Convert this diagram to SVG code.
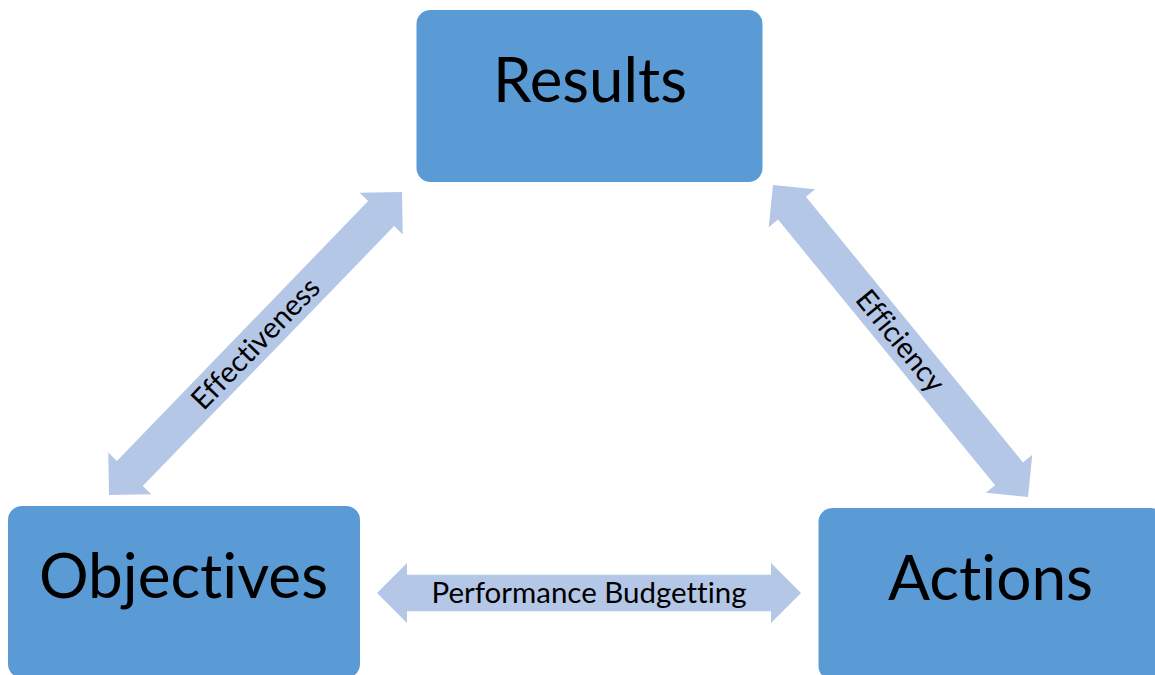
<svg xmlns="http://www.w3.org/2000/svg" width="1155" height="675" viewBox="0 0 1155 675">
  <defs>
    <style>
      .box { fill: #5B9BD5; }
      .big { font-family: Lato, "Open Sans", "Liberation Sans", sans-serif; font-size: 61px; fill: #000; text-anchor: middle; font-variant-ligatures: none; font-feature-settings: "liga" 0, "dlig" 0; }
      .arrow { fill: #B4C7E7; }
      .lbl { font-family: Lato, "Open Sans", "Liberation Sans", sans-serif; font-size: 29px; fill: #000; text-anchor: middle; font-variant-ligatures: none; font-feature-settings: "liga" 0, "dlig" 0; }
    </style>
  </defs>
  <rect width="1155" height="675" fill="#FFFFFF"/>

  <!-- double-headed block arrows with their labels -->
  <g id="connectors">
    <g id="effectiveness" transform="translate(255.5 343.5) rotate(-45.96)">
      <path class="arrow" d="M -210.75 0 L -180.75 -30 L -180.75 -18 L 180.75 -18 L 180.75 -30 L 210.75 0 L 180.75 30 L 180.75 18 L -180.75 18 L -180.75 30 Z"/>
      <text class="lbl" x="0" y="10" textLength="170" lengthAdjust="spacingAndGlyphs">Effectiveness</text>
    </g>
    <g id="efficiency" transform="translate(900.5 341) rotate(50.74)">
      <path class="arrow" d="M -201.5 0 L -171.5 -30 L -171.5 -18 L 171.5 -18 L 171.5 -30 L 201.5 0 L 171.5 30 L 171.5 18 L -171.5 18 L -171.5 30 Z"/>
      <text class="lbl" x="0" y="10" textLength="122" lengthAdjust="spacingAndGlyphs">Efficiency</text>
    </g>
    <g id="performance-budgetting" transform="translate(589 593)">
      <path class="arrow" d="M -212 0 L -182 -30 L -182 -18.3 L 182 -18.3 L 182 -30 L 212 0 L 182 30 L 182 18.3 L -182 18.3 L -182 30 Z"/>
      <text class="lbl" x="0" y="10" textLength="315" lengthAdjust="spacingAndGlyphs">Performance Budgetting</text>
    </g>
  </g>

  <g id="results">
    <rect class="box" x="416.5" y="10" width="346" height="172" rx="14" ry="14"/>
    <text class="big" x="590" y="102" textLength="194" lengthAdjust="spacingAndGlyphs">Results</text>
  </g>

  <g id="objectives">
    <rect class="box" x="8" y="506" width="352" height="172" rx="14" ry="14"/>
    <text class="big" x="183.5" y="598" textLength="289" lengthAdjust="spacingAndGlyphs">Objectives</text>
  </g>

  <g id="actions">
    <rect class="box" x="818.5" y="508" width="346" height="172" rx="14" ry="14"/>
    <text class="big" x="990.5" y="600" textLength="205" lengthAdjust="spacingAndGlyphs">Actions</text>
  </g>
</svg>
